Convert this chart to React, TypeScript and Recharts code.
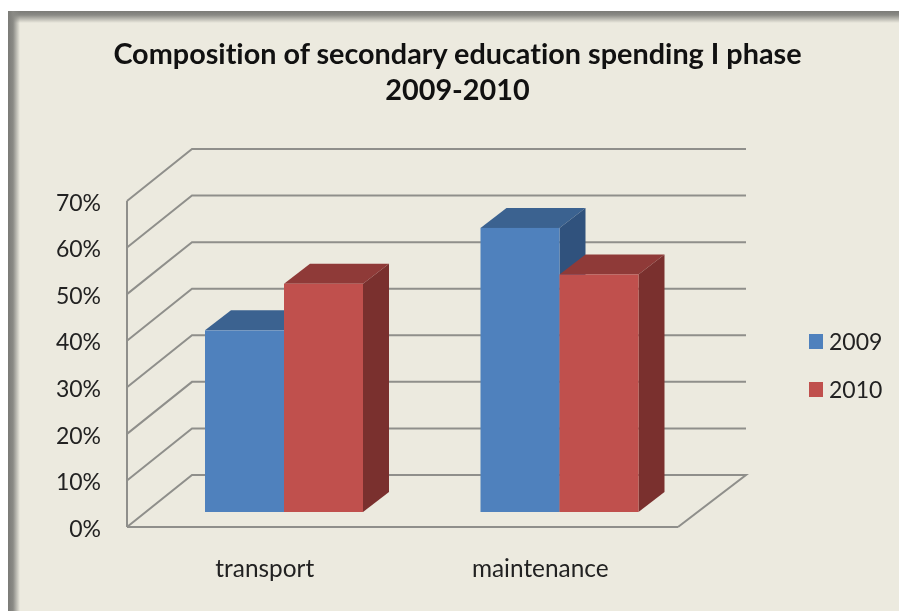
import { BarChart, Bar, XAxis, YAxis, CartesianGrid, Legend } from "recharts";

const categories = ["transport", "maintenance"];
const values2009 = [0.39, 0.61];
const values2010 = [0.49, 0.51];
const percentTicks = [0, 0.1, 0.2, 0.3, 0.4, 0.5, 0.6, 0.7];
const titleLines = ["Composition of secondary education spending I phase", "2009-2010"];

const chartData = categories.map((name, i) => ({
  name,
  y2009: values2009[i],
  y2010: values2010[i],
}));

const FONT = "Lato, 'Open Sans', sans-serif";
const PAPER = "#eceadf";
const GRID = "#8f8f8b";
const BLUE = { front: "#4f81bd", top: "#3b6290", side: "#30527d" };
const RED = { front: "#c0504d", top: "#8f3a38", side: "#7a302e" };
const legendItems = [
  { label: "2009", color: BLUE.front },
  { label: "2010", color: RED.front },
];

// how far the wall and floor recede, and where the bars stand on the floor
const WALL_DX = 65;
const WALL_DY = 52;
const WALL_DX_RIGHT = 68;
const FLOOR_DX = 19;
const FLOOR_DY = 15;
const BAR_DX = 26;
const BAR_DY = 20;
const PLOT_BOTTOM = 527;

function GridLine3D(props: any) {
  const { x1, x2, y1, key } = props;
  const backLeft = x1 + WALL_DX;
  const backRight = x2 + WALL_DX_RIGHT;
  const isFloor = Math.abs(y1 - PLOT_BOTTOM) < 1;
  let d = `M${x1},${y1}L${backLeft},${y1 - WALL_DY}L${backRight},${y1 - WALL_DY}`;
  if (isFloor) d += `L${x2},${y1}`;
  return <path key={key} d={d} fill="none" stroke={GRID} strokeWidth={2} />;
}

function box3D(colors: typeof BLUE) {
  return (props: any) => {
    const x = props.x + FLOOR_DX;
    const y = props.y - FLOOR_DY;
    const { width, height } = props;
    return (
      <g>
        <polygon
          points={`${x},${y} ${x + BAR_DX},${y - BAR_DY} ${x + width + BAR_DX},${y - BAR_DY} ${x + width},${y}`}
          fill={colors.top}
        />
        <polygon
          points={`${x + width},${y} ${x + width + BAR_DX},${y - BAR_DY} ${x + width + BAR_DX},${y + height - BAR_DY} ${x + width},${y + height}`}
          fill={colors.side}
        />
        <rect x={x} y={y} width={width} height={height} fill={colors.front} />
      </g>
    );
  };
}

function LegendBox() {
  return (
    <div style={{ fontFamily: FONT, fontSize: 23, color: "#222" }}>
      {legendItems.map((item) => (
        <div key={item.label} style={{ display: "flex", alignItems: "center", height: 48 }}>
          <span style={{ width: 14, height: 15, background: item.color, marginRight: 6 }} />
          {item.label}
        </div>
      ))}
    </div>
  );
}

export default function App() {
  return (
    <div style={{ position: "absolute", left: 0, top: 0, width: 899, height: 611, background: "#fff", overflow: "hidden" }}>
      <div
        style={{
          position: "absolute",
          left: 8,
          top: 11,
          width: 891,
          height: 600,
          background: `linear-gradient(to right, #7b7b77 0px, #8a8a85 5px, rgba(236,234,223,0) 12px), linear-gradient(to bottom, #7b7b77 0px, #8a8a85 4px, ${PAPER} 12px)`,
        }}
      />
      <div
        style={{
          position: "absolute",
          left: 0,
          top: 35,
          width: 915,
          textAlign: "center",
          fontFamily: FONT,
          fontWeight: 700,
          fontSize: 28.8,
          lineHeight: "36px",
          fontVariantLigatures: "none",
          color: "#111",
          filter: "blur(0.4px)",
        }}
      >
        {titleLines.map((line) => (
          <div key={line}>{line}</div>
        ))}
      </div>
      <div style={{ position: "absolute", left: 0, top: 0, filter: "blur(0.5px)" }}>
        <BarChart
          width={899}
          height={611}
          data={chartData}
          margin={{ top: 201, right: 131, bottom: 0, left: 67 }}
          barSize={79}
          barGap={0}
        >
          <CartesianGrid vertical={false} horizontal={GridLine3D as any} />
          <XAxis
            dataKey="name"
            height={84}
            tickLine={false}
            tickSize={0}
            axisLine={{ stroke: GRID, strokeWidth: 2 }}
            tick={{ fill: "#222", fontSize: 24.4, fontFamily: FONT }}
            tickMargin={33}
            interval={0}
          />
          <YAxis
            width={60}
            domain={[0, 0.7]}
            ticks={percentTicks}
            tickFormatter={(v: number) => `${Math.round(v * 100)}%`}
            tickLine={false}
            tickSize={0}
            tickMargin={26}
            axisLine={{ stroke: GRID, strokeWidth: 2 }}
            tick={{ fill: "#222", fontSize: 23, fontFamily: FONT, dy: 1.5 }}
          />
          <Legend
            layout="vertical"
            align="right"
            verticalAlign="middle"
            content={<LegendBox />}
            wrapperStyle={{ left: 809, top: 317, width: 90 }}
          />
          <Bar dataKey="y2009" name="2009" isAnimationActive={false} shape={box3D(BLUE)} />
          <Bar dataKey="y2010" name="2010" isAnimationActive={false} shape={box3D(RED)} />
        </BarChart>
      </div>
    </div>
  );
}
